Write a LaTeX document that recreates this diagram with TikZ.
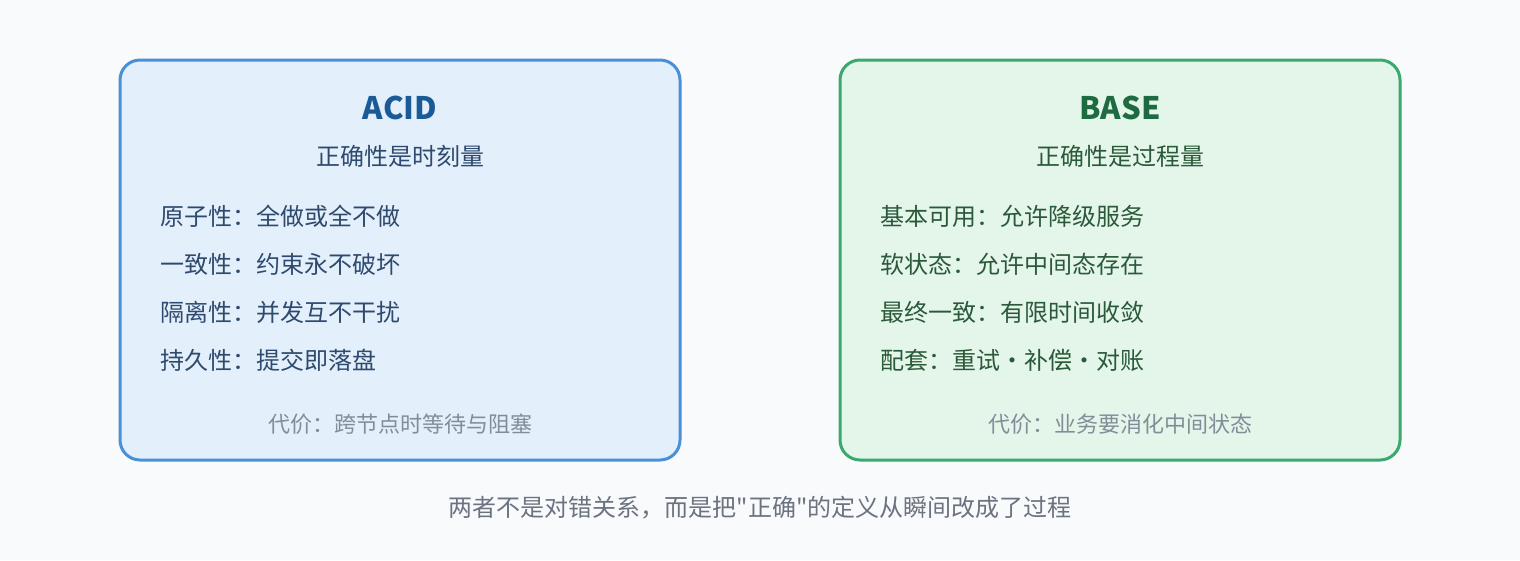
\documentclass[tikz,border=0pt]{standalone}
\usepackage{fontspec}
\setmainfont{Noto Sans CJK SC}[Ligatures=TeXOff]
\newfontfamily\cjk{Noto Sans CJK SC}[Ligatures=TeXOff]
\begin{document}
\begin{tikzpicture}[x=1pt,y=-1pt,
  panel/.style={line width=3pt,rounded corners=20pt},
  title/.style={font=\fontsize{31}{35}\selectfont\bfseries,anchor=center},
  subt/.style={font=\fontsize{24}{28}\selectfont,anchor=center},
  item/.style={font=\fontsize{24}{28}\selectfont,anchor=west,inner sep=0pt},
  cost/.style={font=\fontsize{22}{26}\selectfont,anchor=center,text=costc},
  capt/.style={font=\fontsize{24}{28}\selectfont,anchor=center,text=captc}]
\definecolor{bgc}{HTML}{F8FAFC}
\definecolor{lborder}{HTML}{4A90D9}
\definecolor{lfill}{HTML}{E3EFFB}
\definecolor{ltitle}{HTML}{1A5A96}
\definecolor{ltext}{HTML}{2E4A6E}
\definecolor{rborder}{HTML}{3BA86E}
\definecolor{rfill}{HTML}{E4F5EA}
\definecolor{rtitle}{HTML}{1E6B42}
\definecolor{rtext}{HTML}{2A5A3A}
\definecolor{costc}{HTML}{838D99}
\definecolor{captc}{HTML}{6B7380}
\fill[bgc] (0,0) rectangle (1520,560);
\useasboundingbox (0,0) rectangle (1520,560);
% left panel
\draw[panel,draw=lborder,fill=lfill] (120,60) rectangle (680,460);
\node[title,text=ltitle] (ltitle) at (400,108) {ACID};
\node[subt,text=ltext] (lsub) at (400,156) {正确性是时刻量};
\node[item,text=ltext] (l1) at (160,216) {原子性：全做或全不做};
\node[item,text=ltext] (l2) at (160,264) {一致性：约束永不破坏};
\node[item,text=ltext] (l3) at (160,312) {隔离性：并发互不干扰};
\node[item,text=ltext] (l4) at (160,360) {持久性：提交即落盘};
\node[cost] (lcost) at (400,424) {代价：跨节点时等待与阻塞};
% right panel
\draw[panel,draw=rborder,fill=rfill] (840,60) rectangle (1400,460);
\node[title,text=rtitle] (rtitle) at (1120,108) {BASE};
\node[subt,text=rtext] (rsub) at (1120,156) {正确性是过程量};
\node[item,text=rtext] (r1) at (880,216) {基本可用：允许降级服务};
\node[item,text=rtext] (r2) at (880,264) {软状态：允许中间态存在};
\node[item,text=rtext] (r3) at (880,312) {最终一致：有限时间收敛};
\node[item,text=rtext] (r4) at (880,360) {配套：重试·补偿·对账};
\node[cost] (rcost) at (1120,424) {代价：业务要消化中间状态};
% caption
\node[capt] (cap) at (760,508) {两者不是对错关系，而是把"正确"的定义从瞬间改成了过程};
\end{tikzpicture}
\end{document}
